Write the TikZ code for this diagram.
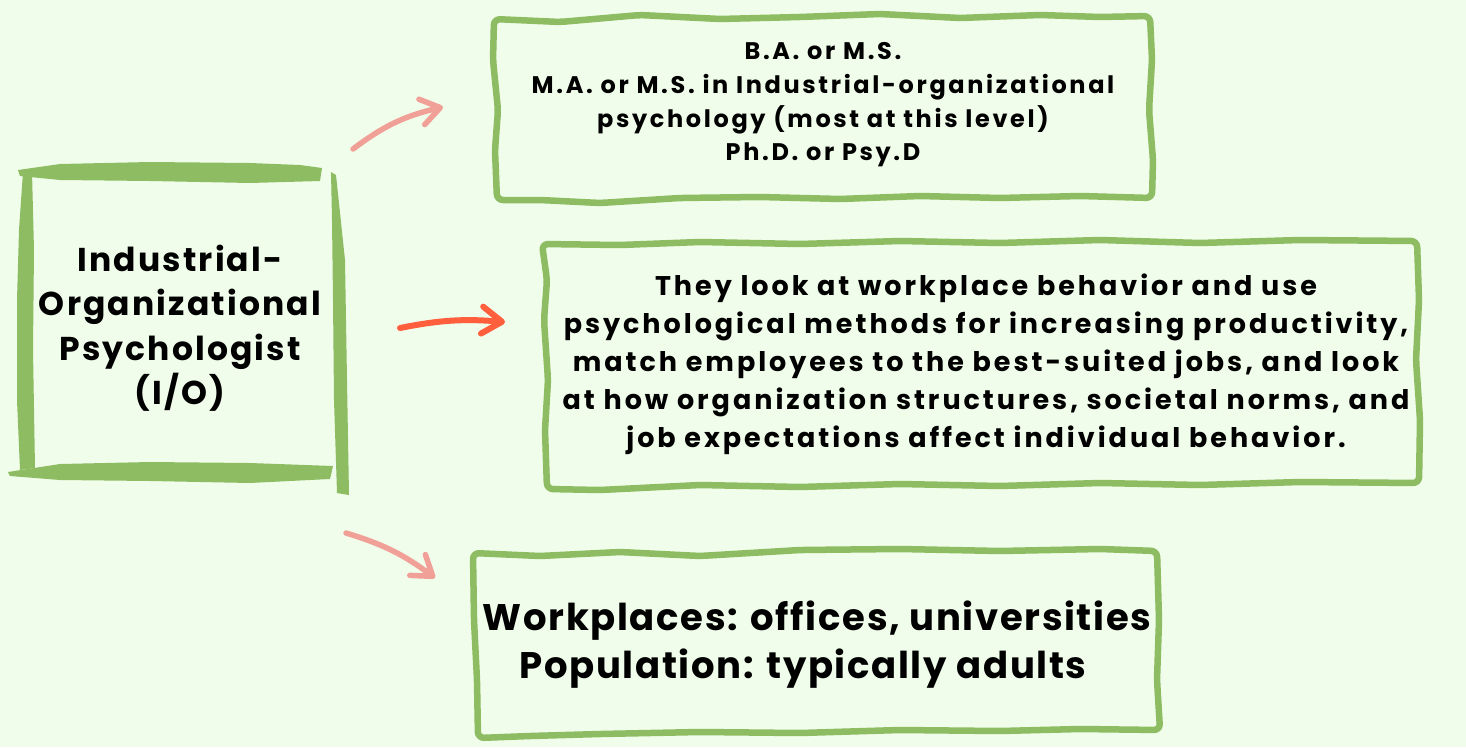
\documentclass[tikz,border=0pt]{standalone}
\usepackage{fontspec}
\setmainfont{Poppins}
\usetikzlibrary{arrows.meta}
\definecolor{bgc}{HTML}{F1FDEB}
\definecolor{brush}{HTML}{8DBC62}
\definecolor{pinkarrow}{HTML}{F0A096}
\definecolor{redarrow}{HTML}{FF5F3C}
\tikzset{
  wbox/.style={draw=brush, line width=6.5pt, rounded corners=6pt, line join=round},
  brushfill/.style={fill=brush, draw=none},
  txt/.style={align=center, text=black, inner sep=0pt},
  parrow/.style={draw=pinkarrow, line width=5.5pt, line cap=round,
    -{Straight Barb[length=19pt, width=26pt, line cap=round, line join=round]}},
  rarrow/.style={draw=redarrow, line width=6pt, line cap=round,
    -{Straight Barb[length=20pt, width=27pt, line cap=round, line join=round]}},
}
\begin{document}
\begin{tikzpicture}[x=1pt, y=-1pt]
\fill[bgc] (0,0) rectangle (1466,747);
\useasboundingbox (0,0) rectangle (1466,747);

% ---- left brush box ----
\fill[brushfill] (18,170) -- (60,164) -- (150,162) -- (250,163) -- (300,165) -- (322,168)
  -- (320,181) -- (250,183) -- (150,181) -- (60,180) -- (20,176) -- cycle;
\fill[brushfill] (23,172) -- (32,172) -- (34,250) -- (33,350) -- (35,468) -- (20,470)
  -- (17,400) -- (17,300) -- (19,230) -- cycle;
\fill[brushfill] (8,472) -- (60,464) -- (150,462) -- (250,463) -- (333,466)
  -- (330,479) -- (250,483) -- (150,481) -- (60,480) -- (10,476) -- cycle;
\fill[brushfill] (331,172) -- (336,175) -- (345,260) -- (347,380) -- (349,495) -- (337,493)
  -- (334,400) -- (333,300) -- (332,220) -- cycle;
\node[txt, font={\fontsize{33}{44.5}\selectfont\bfseries\addfontfeatures{LetterSpace=6.5}}]
  (io) at (180,328) {Industrial-\\Organizational\\Psychologist\\(I/O)};

% ---- degrees box ----
\draw[wbox] (494,19) -- (560,22) -- (640,15) -- (720,19) -- (800,17) -- (880,14) -- (960,18)
  -- (1040,15) -- (1100,17) -- (1150,16) -- (1152,60) -- (1149,110) -- (1153,160) -- (1152,198)
  -- (1080,196) -- (1000,198) -- (920,196) -- (840,199) -- (760,197) -- (680,198) -- (600,203)
  -- (540,200) -- (497,200) -- (495,150) -- (498,110) -- (493,60) -- cycle;
\node[txt, font={\fontsize{24}{33.7}\selectfont\bfseries\addfontfeatures{LetterSpace=11}}]
  (deg) at (823,105) {B.A. or M.S.\\M.A. or M.S. in Industrial-organizational\\psychology (most at this level)\\Ph.D. or Psy.D};

% ---- description box ----
\draw[wbox] (542,244) -- (620,245) -- (700,242) -- (800,244) -- (900,241) -- (1000,243)
  -- (1100,240) -- (1200,243) -- (1300,240) -- (1417,241) -- (1419,300) -- (1416,360)
  -- (1420,420) -- (1419,483) -- (1300,482) -- (1200,485) -- (1100,483) -- (1000,486)
  -- (900,484) -- (800,487) -- (700,485) -- (600,490) -- (547,489) -- (545,430)
  -- (548,380) -- (544,320) -- (547,280) -- cycle;
\node[txt, font={\fontsize{27}{38}\selectfont\bfseries\addfontfeatures{LetterSpace=11}}]
  (desc) at (986,364) {They look at workplace behavior and use\\psychological methods for increasing productivity,\\match employees to the best-suited jobs, and look\\at how organization structures, societal norms, and\\job expectations affect individual behavior.};

% ---- workplaces box ----
\draw[wbox] (473,553) -- (540,556) -- (620,552) -- (700,556) -- (800,550) -- (900,549)
  -- (1000,551) -- (1100,549) -- (1157,551) -- (1159,620) -- (1157,680) -- (1160,730)
  -- (1080,729) -- (1000,731) -- (900,730) -- (800,733) -- (700,732) -- (600,734)
  -- (530,736) -- (478,738) -- (477,680) -- (474,620) -- cycle;
\node[txt, font={\fontsize{37}{48}\selectfont\bfseries\addfontfeatures{LetterSpace=4.5}}]
  (work) at (817,645) {Workplaces: offices, universities\\Population: typically adults\hspace*{28pt}};

% ---- arrows ----
\coordinate (a1s) at (353,149);
\coordinate (a1e) at (443,107);
\coordinate (a2s) at (400,328);
\coordinate (a2e) at (505,322);
\coordinate (a3s) at (346,533);
\coordinate (a3e) at (435,578);
\draw[parrow] (a1s) to[bend left=12] (a1e);
\draw[rarrow] (a2s) to[bend left=8] (a2e);
\draw[parrow] (a3s) to[bend left=10] (a3e);
\end{tikzpicture}
\end{document}
